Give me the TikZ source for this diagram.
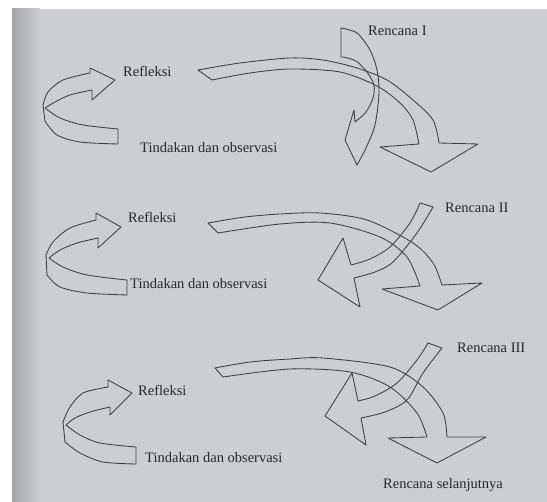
\documentclass[tikz,border=0pt]{standalone}
\usepackage{fontspec}
\setmainfont{Liberation Serif}
\definecolor{paper}{RGB}{204,206,209}
\definecolor{linec}{RGB}{62,62,68}
\definecolor{txtc}{RGB}{40,40,46}
\tikzset{
  ribbon/.style={draw=linec, line width=0.85pt, line join=round},
  lbl/.style={font=\fontsize{14.5}{16}\selectfont, text=txtc, anchor=west, inner sep=0pt}
}
\begin{document}
\begin{tikzpicture}[x=1pt,y=-1pt]
\useasboundingbox (0,0) rectangle (547,502);
\fill[white] (0,0) rectangle (547,502);
\fill[paper] (12,9) rectangle (547,502);
\shade[left color=black!20!paper, right color=paper] (12,9) rectangle (40,502);

% ===== cycle 1 =====
\draw[ribbon] plot[smooth] coordinates {(43,105) (48,92) (63,80) (90,73)} -- (90,68) -- (115,80) -- (92,100) -- (92,90)
  -- plot[smooth] coordinates {(92,90) (70,95) (55,102) (45,108)};
\draw[ribbon] plot[smooth] coordinates {(45,108) (60,118) (83,125) (118,129)} -- (118,144)
  -- plot[smooth] coordinates {(118,144) (80,142) (57,135) (45,121)} -- (43,105);
\draw[ribbon] plot[smooth] coordinates {(198,70) (240,63) (290,58) (323,60) (357,68) (387,80) (413,100) (433,120) (439,143)}
  -- (478,144) -- (431,172) -- (380,147) -- (419,144)
  -- plot[smooth] coordinates {(419,144) (413,120) (400,103) (377,86) (340,72) (290,69) (250,73) (212,80)} -- cycle;
\draw[ribbon] (341,57) -- (341,28)
  -- plot[smooth] coordinates {(341,28) (357,33) (370,50) (377,70) (379,93) (375,125) (366,148) (357,165)}
  -- (345,140) -- (354,110) -- (355,122)
  -- plot[smooth] coordinates {(355,122) (366,112) (373,98) (374,85) (367,72) (356,61) (343,57)} -- cycle;
\node[lbl] (ref1) at (123,71) {Refleksi};
\node[lbl] (tin1) at (140,148) {Tindakan dan observasi};
\node[lbl] (ren1) at (368,31) {Rencana I};

% ===== cycle 2 =====
\draw[ribbon] plot[smooth] coordinates {(46,255) (53,242) (70,228) (96,220)} -- (96,213) -- (121,227) -- (98,248) -- (98,238)
  -- plot[smooth] coordinates {(98,238) (77,243) (60,250) (49,258)};
\draw[ribbon] plot[smooth] coordinates {(49,258) (63,267) (87,275) (127,280)} -- (127,295)
  -- plot[smooth] coordinates {(127,295) (87,293) (60,287) (47,275)} -- (46,255);
\draw[ribbon] plot[smooth] coordinates {(208,223) (245,217) (280,214) (320,213) (367,220) (413,243) (433,263) (442,285)}
  -- (482,283) -- (438,310) -- (382,289) -- (420,286)
  -- plot[smooth] coordinates {(420,286) (407,257) (380,237) (330,223) (280,224) (218,233)} -- cycle;
\draw[ribbon] plot[smooth] coordinates {(420,203) (410,223) (390,247) (370,259) (351,265)}
  -- (343,238) -- (318,280) -- (360,307) -- (354,278)
  -- plot[smooth] coordinates {(354,278) (375,272) (393,262) (417,233) (433,207)} -- cycle;
\node[lbl] (ref2) at (128,217) {Refleksi};
\node[lbl] (tin2) at (130,284) {Tindakan dan observasi};
\node[lbl] (ren2) at (445,208) {Rencana II};

% ===== cycle 3 =====
\draw[ribbon] plot[smooth] coordinates {(63,422) (70,407) (83,393) (108,387)} -- (108,380) -- (132,393) -- (110,415) -- (110,407)
  -- plot[smooth] coordinates {(110,407) (90,412) (75,418) (66,425)};
\draw[ribbon] plot[smooth] coordinates {(66,425) (80,435) (100,443) (136,447)} -- (136,464)
  -- plot[smooth] coordinates {(136,464) (103,462) (80,453) (65,442)} -- (63,422);
\draw[ribbon] plot[smooth] coordinates {(215,368) (250,362) (290,359) (323,358) (390,367) (423,387) (443,413) (447,437)}
  -- (486,437) -- (437,463) -- (388,438) -- (427,437)
  -- plot[smooth] coordinates {(427,437) (417,413) (390,387) (350,372) (290,369) (223,377)} -- cycle;
\draw[ribbon] plot[smooth] coordinates {(428,343) (417,360) (397,383) (375,396) (358,401)}
  -- (352,373) -- (325,416) -- (366,445) -- (361,418)
  -- plot[smooth] coordinates {(361,418) (385,412) (407,400) (423,373) (442,348)} -- cycle;
\node[lbl] (ref3) at (138,390) {Refleksi};
\node[lbl] (tin3) at (145,458) {Tindakan dan observasi};
\node[lbl] (ren3) at (457,348) {Rencana III};
\node[lbl] (ren4) at (383,485) {Rencana selanjutnya};
\end{tikzpicture}
\end{document}
